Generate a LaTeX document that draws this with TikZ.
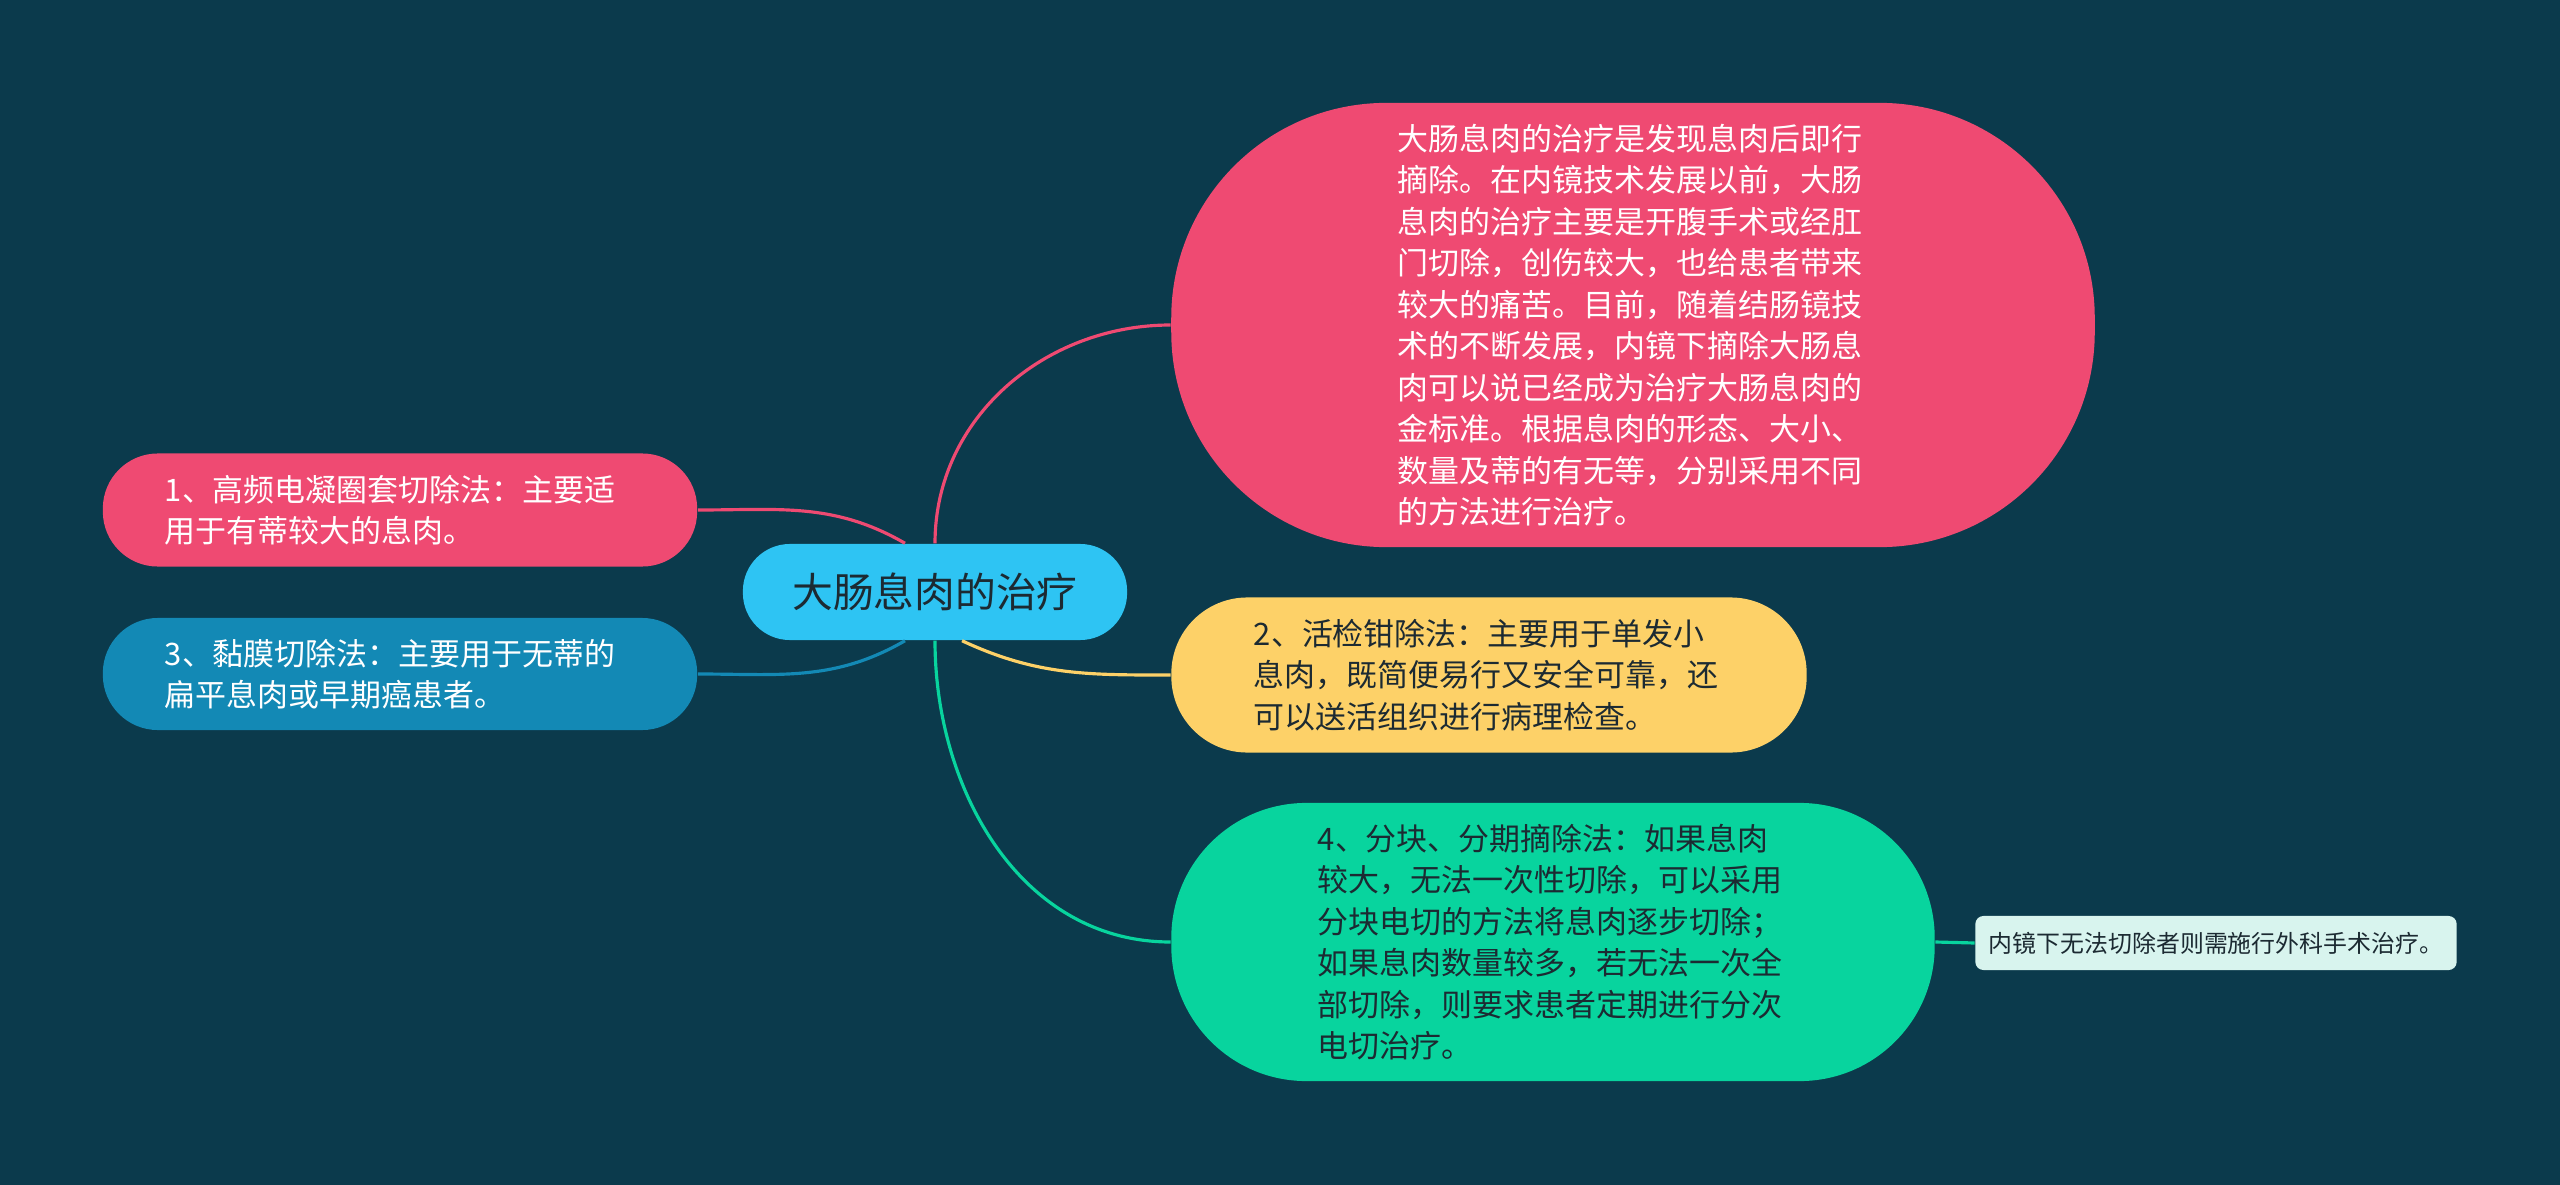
\documentclass[tikz,border=0pt]{standalone}
\usepackage{fontspec}
\setmainfont{Noto Sans CJK SC}

\definecolor{bgteal}{RGB}{11,58,76}
\definecolor{rose}{RGB}{239,74,114}
\definecolor{sky}{RGB}{46,196,243}
\definecolor{ocean}{RGB}{19,137,181}
\definecolor{sand}{RGB}{253,209,104}
\definecolor{mint}{RGB}{8,212,158}
\definecolor{pale}{RGB}{216,244,238}
\definecolor{ink}{RGB}{28,42,50}

\begin{document}
\begin{tikzpicture}[x=0.01cm, y=-0.01cm,
	leaf/.style={align=left, text width=4.7cm, inner sep=0pt, font=\fontsize{8.8}{11.8}\selectfont},
	link/.style={line width=0.9pt}]
	\fill[bgteal] (0,0) rectangle (2560,1185);
	\useasboundingbox (0,0) rectangle (2560,1185);

	\node[fill=sky, text=ink, rounded corners=0.47cm, minimum width=3.84cm, minimum height=0.96cm, font=\fontsize{11.6}{14}\selectfont] (root) at (935,592) {大肠息肉的治疗};

	\node[leaf, fill=rose, text=white, rounded corners=2.15cm, minimum width=9.23cm, minimum height=4.44cm] (treat) at (1633,325) {大肠息肉的治疗是发现息肉后即行\\摘除。在内镜技术发展以前，大肠\\息肉的治疗主要是开腹手术或经肛\\门切除，创伤较大，也给患者带来\\较大的痛苦。目前，随着结肠镜技\\术的不断发展，内镜下摘除大肠息\\肉可以说已经成为治疗大肠息肉的\\金标准。根据息肉的形态、大小、\\数量及蒂的有无等，分别采用不同\\的方法进行治疗。};

	\node[leaf, fill=rose, text=white, rounded corners=0.55cm, minimum width=5.94cm, minimum height=1.13cm] (snare) at (400,510) {1、高频电凝圈套切除法：主要适\\用于有蒂较大的息肉。};

	\node[leaf, fill=ocean, text=white, rounded corners=0.55cm, minimum width=5.94cm, minimum height=1.12cm] (mucosa) at (400,674) {3、黏膜切除法：主要用于无蒂的\\扁平息肉或早期癌患者。};

	\node[leaf, fill=sand, text=ink, rounded corners=0.76cm, minimum width=6.35cm, minimum height=1.55cm] (forceps) at (1489,675) {2、活检钳除法：主要用于单发小\\息肉，既简便易行又安全可靠，还\\可以送活组织进行病理检查。};

	\node[leaf, fill=mint, text=ink, rounded corners=1.35cm, minimum width=7.63cm, minimum height=2.78cm] (piece) at (1553,942) {4、分块、分期摘除法：如果息肉\\较大，无法一次性切除，可以采用\\分块电切的方法将息肉逐步切除；\\如果息肉数量较多，若无法一次全\\部切除，则要求患者定期进行分次\\电切治疗。};

	\node[fill=pale, text=ink, rounded corners=0.08cm, minimum width=4.81cm, minimum height=0.54cm, inner sep=0pt, font=\fontsize{6.8}{8}\selectfont] (surgery) at (2216,943) {内镜下无法切除者则需施行外科手术治疗。};

	\draw[link, rose] (root.north) to[out=90, in=180] (treat.west);
	\draw[link, rose] ([xshift=-0.3cm]root.north) to[out=150, in=0] (snare.east);
	\draw[link, ocean] ([xshift=-0.3cm]root.south) to[out=-150, in=0] (mucosa.east);
	\draw[link, sand] ([xshift=0.27cm]root.south) to[out=-25, in=180] (forceps.west);
	\draw[link, mint] (root.south) to[out=-90, in=180] (piece.west);
	\draw[link, mint] (piece.east) -- (surgery.west);
\end{tikzpicture}
\end{document}
